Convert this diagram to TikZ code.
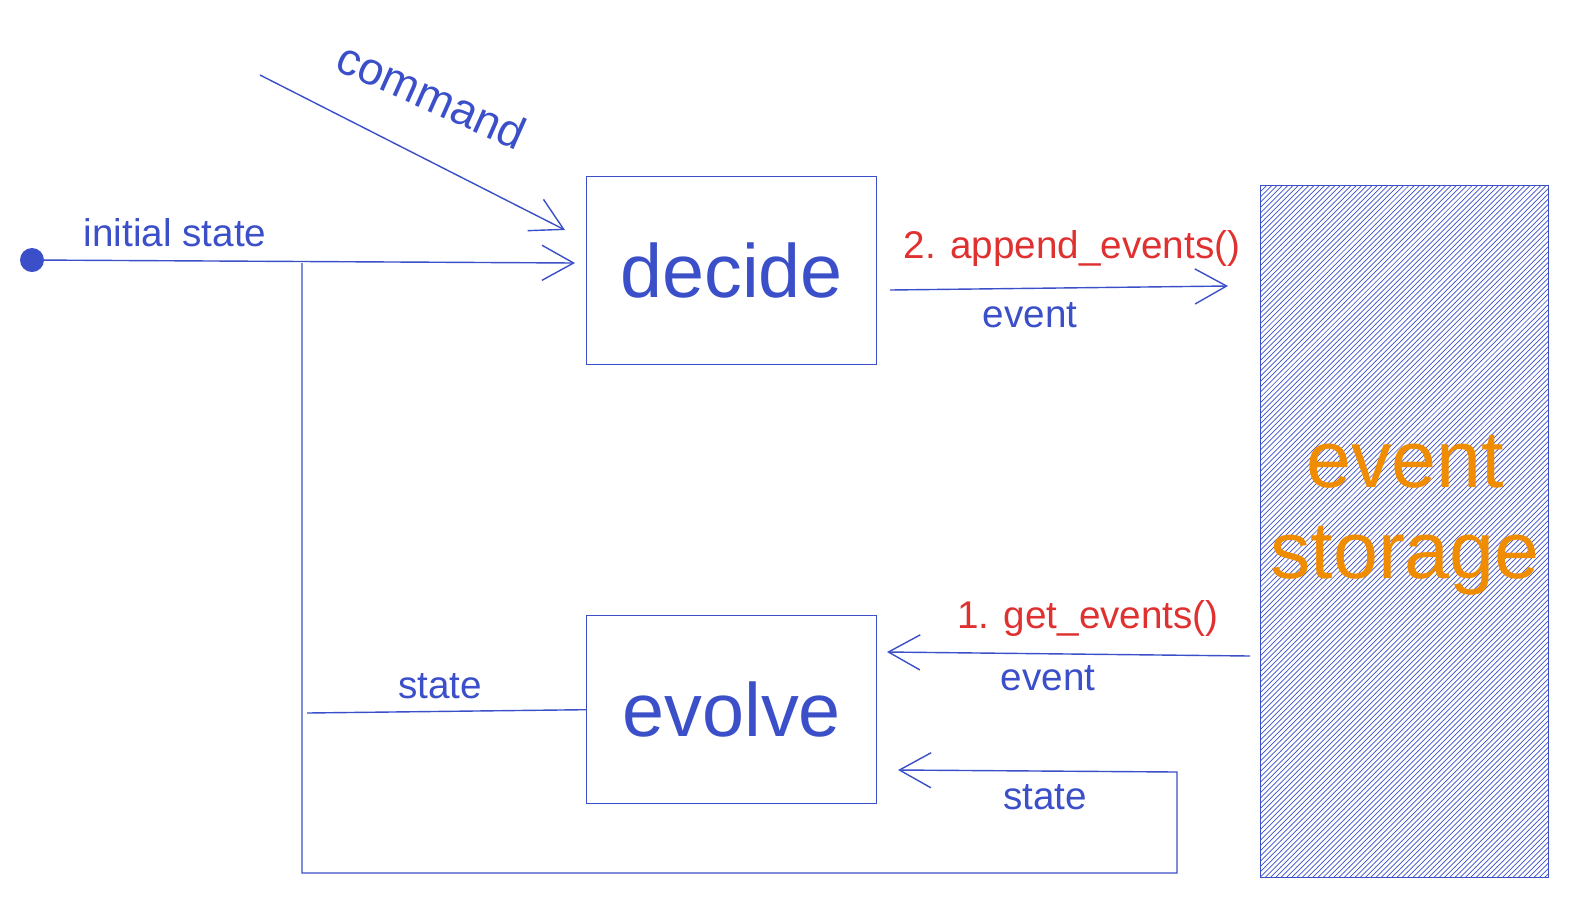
\documentclass[tikz,border=0pt]{standalone}
\usepackage{fontspec}
\setmainfont{Liberation Sans}
\usetikzlibrary{arrows.meta,patterns}
\definecolor{ink}{HTML}{3B4FC8}
\definecolor{callred}{HTML}{E03131}
\definecolor{store}{HTML}{F08C00}
\tikzset{
  box/.style={draw=ink, thick, minimum width=5.8cm, minimum height=3.76cm, inner sep=0pt},
  flow/.style={draw=ink, thick, -{Straight Barb[length=18pt,width=20pt]}},
  wire/.style={draw=ink, thick},
  lbl/.style={text=ink, font=\fontsize{22}{24}\selectfont},
  call/.style={text=callred, font=\fontsize{22}{24}\selectfont}
}
\begin{document}
\begin{tikzpicture}[x=0.02cm,y=-0.02cm]
  \useasboundingbox (0,0) rectangle (1582,904);
  \node [box, anchor=north west, font=\fontsize{43}{48}\selectfont, text=ink] (decide) at (586,176) {decide};
  \node [box, anchor=north west, font=\fontsize{43}{48}\selectfont, text=ink] (evolve) at (586,615) {evolve};
  \node [draw=ink, thick, pattern=north east lines, pattern color=ink, anchor=north west,
         minimum width=5.76cm, minimum height=13.84cm, inner sep=0pt] (storage) at (1260,185) {};
  \node [text=store, font=\fontsize{46}{52}\selectfont, align=center] at (1405,515) {event\\storage};

  % initial state and command
  \fill [ink] (32,260) circle (12) coordinate (start);
  \coordinate (split) at (302,263);
  \draw [flow] (start) -- (575,263);
  \node [lbl] (init) at (175,233) {initial state};
  \coordinate (cmd) at (260,75);
  \draw [flow] (cmd) -- (565,230);
  \node [lbl, rotate=-24, font=\fontsize{26}{28}\selectfont] (cmdlbl) at (432,95) {command};

  % decide -> storage
  \coordinate (out) at (890,290);
  \coordinate (in) at (1228,286);
  \draw [flow] (out) -- (in);
  \node [call] (append) at (1072,248) {2. append\_events()};
  \node [lbl] (ev1) at (1030,315) {event};

  % storage -> evolve
  \coordinate (get) at (1250,656);
  \draw [flow] (get) -- (887,652);
  \node [call] (getev) at (1088,618) {1. get\_events()};
  \node [lbl] (ev2) at (1048,678) {event};

  % state loop
  \draw [wire] (evolve.west) -- (307,713);
  \node [lbl] (st1) at (440,686) {state};
  \coordinate (corner) at (1177,873);
  \draw [flow] (split) -- (302,873) -- (corner) -- (1177,772) -- (898,770);
  \node [lbl] (st2) at (1045,797) {state};
\end{tikzpicture}
\end{document}
